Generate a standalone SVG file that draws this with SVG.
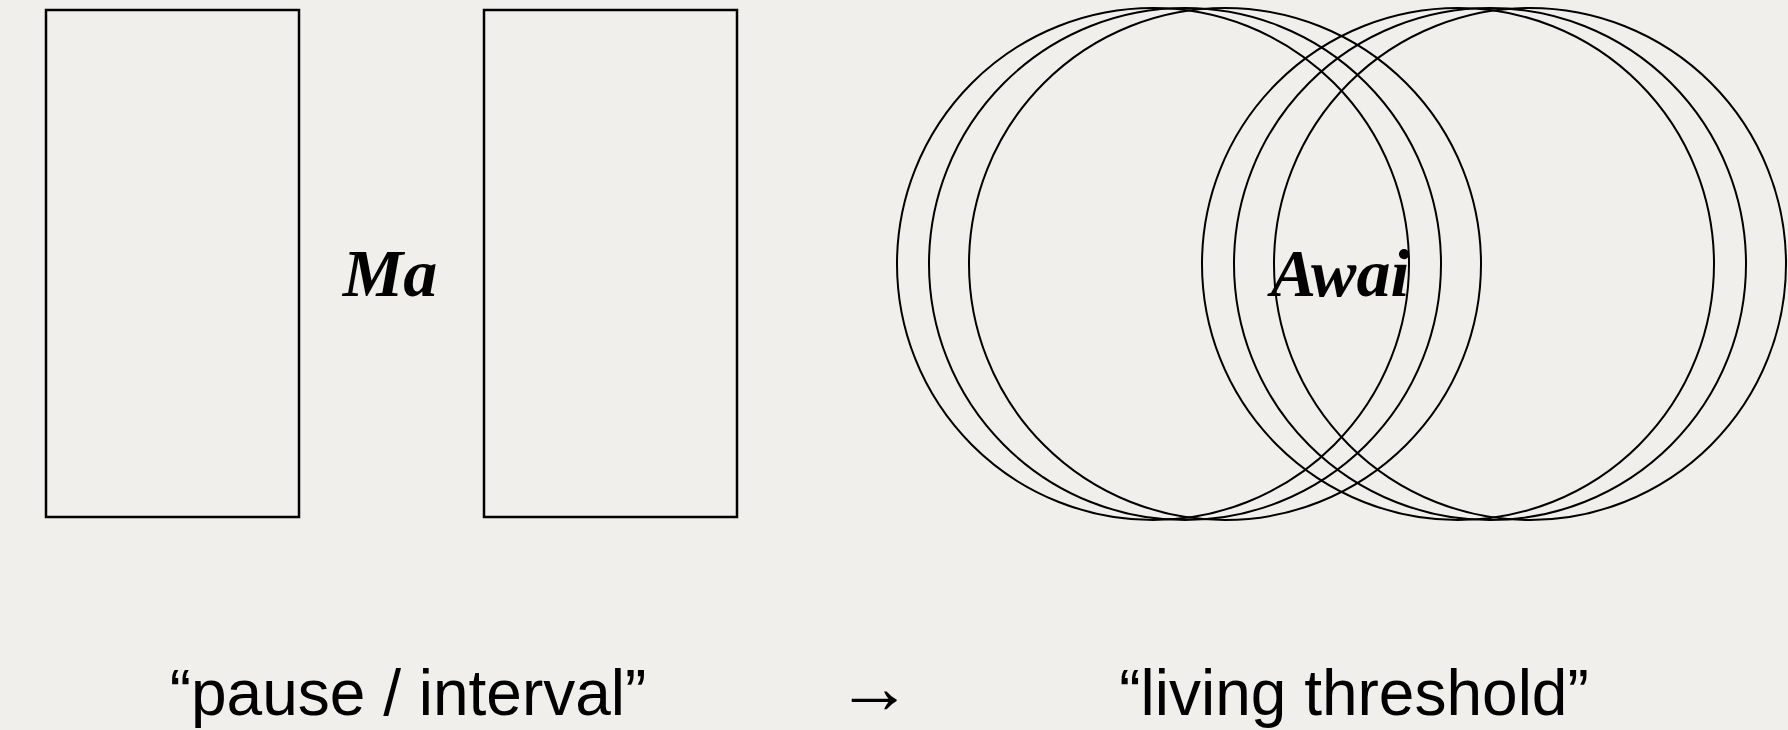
<svg xmlns="http://www.w3.org/2000/svg" width="1788" height="730" viewBox="0 0 1788 730">
<style>
.box{fill:none;stroke:#000;stroke-width:2.5}
.ring{fill:none;stroke:#000;stroke-width:2}
.term{font-family:"Liberation Serif","Times New Roman",serif;font-weight:bold;font-style:italic;font-size:68px;fill:#000;text-anchor:middle}
.cap{font-family:"Liberation Sans",Arial,sans-serif;font-size:64px;fill:#000;text-anchor:middle}
</style>
<rect width="1788" height="730" fill="#f0efeb"/>
<g id="ma">
<rect class="box" x="46" y="10" width="253" height="507"/>
<rect class="box" x="484" y="10" width="253" height="507"/>
<text class="term" x="390" y="296">Ma</text>
</g>
<g id="awai">
<circle class="ring" cx="1153" cy="264" r="256"/>
<circle class="ring" cx="1185" cy="264" r="256"/>
<circle class="ring" cx="1225" cy="264" r="256"/>
<circle class="ring" cx="1458" cy="264" r="256"/>
<circle class="ring" cx="1490" cy="264" r="256"/>
<circle class="ring" cx="1530" cy="264" r="256"/>
<text class="term" x="1340" y="296">Awai</text>
</g>
<g id="captions">
<text class="cap" x="408" y="715">“pause / interval”</text>
<text class="cap" x="874" y="713" style="font-size:76px">→</text>
<text class="cap" x="1354" y="715">“living threshold”</text>
</g>
</svg>
